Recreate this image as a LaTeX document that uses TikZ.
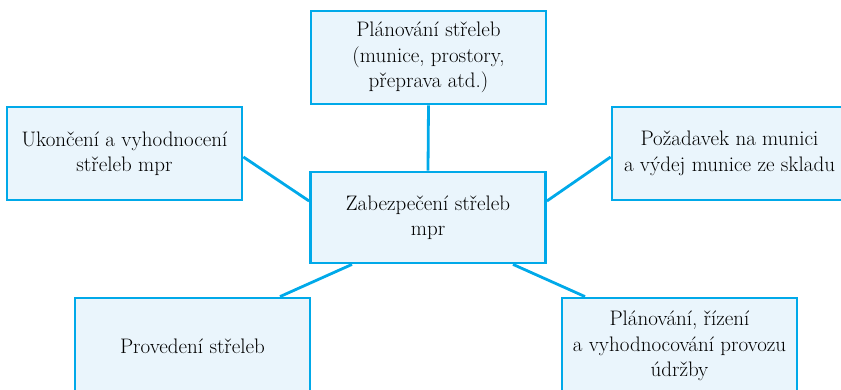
\documentclass[tikz,border=0pt]{standalone}
\usepackage{fontspec}
\definecolor{boxline}{HTML}{00A9E9}
\definecolor{boxfill}{HTML}{EAF5FC}
\tikzset{
  task/.style={draw=boxline, fill=boxfill, line width=2.8pt, rectangle,
    minimum width=235pt, minimum height=93pt, align=center, inner sep=2pt,
    font=\fontsize{21pt}{25.5pt}\selectfont, text=black},
  link/.style={draw=boxline, line width=2.8pt}
}
\begin{document}
\begin{tikzpicture}[x=1pt,y=-1pt]
  \useasboundingbox (0,0) rectangle (841,390);
  \clip (0,0) rectangle (841,390);
  % hub and the five activities around it
  \node[task, minimum height=91pt] (C) at (428,217.5) {Zabezpečení střeleb\\mpr};
  \node[task] (T) at (428.5,57.5) {Plánování střeleb\\(munice, prostory,\\přeprava atd.)};
  \node[task] (L) at (124.5,153.5) {Ukončení a vyhodnocení\\střeleb mpr};
  \node[task] (R) at (729.5,153.5) {Požadavek na munici\\a výdej munice ze skladu};
  \node[task, minimum height=96pt] (BL) at (192.5,346) {Provedení střeleb};
  \node[task, minimum height=96pt] (BR) at (679.5,346) {Plánování, řízení\\a vyhodnocování provozu\\údržby};
  % connectors from the hub
  \draw[link] (T.south) -- (C.north);
  \draw[link] ([yshift=-3.5pt]L.east) -- ([yshift=16.5pt]C.west);
  \draw[link] ([yshift=-3.5pt]R.west) -- ([yshift=16.5pt]C.east);
  \draw[link] ([xshift=-76pt]C.south) -- ([xshift=87.5pt]BL.north);
  \draw[link] ([xshift=85pt]C.south) -- ([xshift=-94.5pt]BR.north);
\end{tikzpicture}
\end{document}
